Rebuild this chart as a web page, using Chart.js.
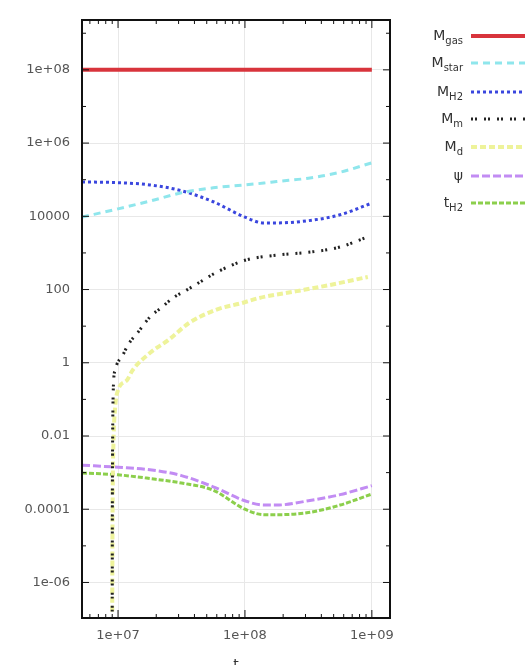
<!DOCTYPE html>
<html lang="en">
<head>
<meta charset="UTF-8">
<title>Mass evolution</title>
<script src="https://cdn.jsdelivr.net/npm/chart.js"></script>
<style>
    html, body { margin: 0; padding: 0; background: #fff; overflow: hidden; }
    canvas { display: block; }
</style>
</head>
<body>
<canvas id="massChart" width="530" height="674"></canvas>
<script>
// shared time grid for the smooth curves
var tGrid  = [5.2e6, 1e7, 1.78e7, 3.16e7, 5.62e7, 1e8, 1.41e8, 1.78e8, 3.16e8, 5.62e8, 1e9];
var mGas   = [1e8, 1e8, 1e8, 1e8, 1e8, 1e8, 1e8, 1e8, 1e8, 1e8, 1e8];
var mStar  = [9.5e3, 1.6e4, 2.6e4, 4.4e4, 6.0e4, 7.2e4, 8.1e4, 8.9e4, 1.1e5, 1.6e5, 2.9e5];
var mH2    = [8.7e4, 8.3e4, 7.2e4, 5.0e4, 2.5e4, 9.5e3, 6.6e3, 6.6e3, 7.6e3, 1.1e4, 2.3e4];
var psi    = [1.6e-3, 1.4e-3, 1.2e-3, 8.3e-4, 4.1e-4, 1.7e-4, 1.3e-4, 1.3e-4, 1.7e-4, 2.5e-4, 4.4e-4];
var tH2    = [9.8e-4, 8.7e-4, 6.9e-4, 5.2e-4, 3.3e-4, 1.0e-4, 7.1e-5, 7.1e-5, 8.1e-5, 1.3e-4, 2.6e-4];

// metals and dust switch on just before 1e7
var tMetal = [9.0e6, 9.02e6, 9.05e6, 9.1e6, 9.2e6, 9.5e6, 1.09e7, 1.2e7, 1.44e7, 1.79e7, 2.22e7,
              2.71e7, 3.49e7, 4.42e7, 5.8e7, 1.0e8, 1.9e8, 3.4e8, 5.6e8, 9.3e8];
var mMetal = [1.6e-7, 1e-4, 3.2e-3, 4e-2, 0.25, 0.63, 1.6, 3.1, 6.9, 18, 33,
              59, 98, 160, 280, 630, 890, 1070, 1450, 2750];
var tDust  = [9.0e6, 9.03e6, 9.08e6, 9.2e6, 9.5e6, 1.0e7, 1.18e7, 1.3e7, 1.8e7, 2.5e7, 3.6e7,
              5.9e7, 9.5e7, 1.3e8, 2.5e8, 4.5e8, 9.3e8];
var mDust  = [1.6e-7, 1e-5, 3.2e-4, 6.3e-3, 6.3e-2, 0.18, 0.34, 0.62, 1.9, 4.2, 12,
              28, 43, 59, 89, 130, 220];

var legendMain = ['M', 'M', 'M', 'M', 'M', '\u03C8', 't'];
var legendSub  = ['gas', 'star', 'H2', 'm', 'd', '', 'H2'];

var yLabels = {'-6': '1e-06', '-4': '0.0001', '-2': '0.01', '0': '1', '2': '100',
               '4': '10000', '6': '1e+06', '8': '1e+08'};
var xLabels = {'7': '1e+07', '8': '1e+08', '9': '1e+09'};

function pts(xs, ys) {
    return xs.map(function (x, i) { return {x: x, y: ys[i]}; });
}

function exp10(v) { return Math.round(Math.log10(v)); }

// frame box with inward tick marks, like the original plot
var frame = {
    id: 'frame',
    afterDraw: function (chart) {
        var c = chart.ctx, a = chart.chartArea;
        var xs = chart.scales.x, ys = chart.scales.y;
        c.save();
        c.strokeStyle = '#111';
        c.lineWidth = 1;
        c.beginPath();
        for (var e = -7; e <= 9; e++) {
            var py = ys.getPixelForValue(Math.pow(10, e));
            if (py < a.top || py > a.bottom) continue;
            var len = (e % 2 === 0) ? 7 : 4;
            c.moveTo(a.left, py); c.lineTo(a.left + len, py);
            c.moveTo(a.right, py); c.lineTo(a.right - len, py);
        }
        for (var d = 6; d <= 9; d++) {
            for (var m = 1; m < 10; m++) {
                var v = m * Math.pow(10, d);
                var px = xs.getPixelForValue(v);
                if (px < a.left || px > a.right) continue;
                var l = (m === 1) ? 8 : 4;
                c.moveTo(px, a.bottom); c.lineTo(px, a.bottom - l);
                c.moveTo(px, a.top); c.lineTo(px, a.top + l);
            }
        }
        c.stroke();
        c.lineWidth = 2;
        c.strokeRect(a.left, a.top, a.right - a.left, a.bottom - a.top);
        c.restore();
    }
};

// legend on the right with subscripts
var sideLegend = {
    id: 'sideLegend',
    afterDraw: function (chart) {
        var c = chart.ctx;
        var rows = [36, 63, 92, 119, 147, 176, 203];
        c.save();
        chart.data.datasets.forEach(function (ds, i) {
            var y = rows[i];
            c.strokeStyle = ds.borderColor;
            c.lineWidth = ds.borderWidth;
            c.setLineDash(ds.borderDash || []);
            c.beginPath();
            c.moveTo(471, y); c.lineTo(525, y);
            c.stroke();
            c.setLineDash([]);
            c.fillStyle = '#333';
            c.textBaseline = 'alphabetic';
            c.textAlign = 'left';
            c.font = '10px "DejaVu Sans"';
            var subW = legendSub[i] ? c.measureText(legendSub[i]).width : 0;
            c.font = '14px "DejaVu Sans"';
            var mainW = c.measureText(legendMain[i]).width;
            var x0 = 463 - subW - mainW;
            c.fillText(legendMain[i], x0, y + 4);
            if (legendSub[i]) {
                c.font = '10px "DejaVu Sans"';
                c.fillText(legendSub[i], x0 + mainW, y + 8);
            }
        });
        c.restore();
    }
};

var ctx = document.getElementById('massChart').getContext('2d');
var massChart = new Chart(ctx, {
    type: 'scatter',
    data: {
        datasets: [
            {label: 'M_gas',  data: pts(tGrid, mGas),   borderColor: '#d8343c', borderWidth: 4},
            {label: 'M_star', data: pts(tGrid, mStar),  borderColor: '#8fe6ec', borderWidth: 3, borderDash: [7, 5]},
            {label: 'M_H2',   data: pts(tGrid, mH2),    borderColor: '#3a46de', borderWidth: 3, borderDash: [3, 3]},
            {label: 'M_m',    data: pts(tMetal, mMetal), borderColor: '#222222', borderWidth: 3, borderDash: [2, 2, 2, 7]},
            {label: 'M_d',    data: pts(tDust, mDust),  borderColor: '#eef39a', borderWidth: 4, borderDash: [6, 3]},
            {label: 'psi',    data: pts(tGrid, psi),    borderColor: '#c28cf3', borderWidth: 3, borderDash: [8, 3]},
            {label: 't_H2',   data: pts(tGrid, tH2),    borderColor: '#8ccf4c', borderWidth: 3, borderDash: [5, 2]}
        ]
    },
    options: {
        responsive: false,
        animation: false,
        showLine: true,
        elements: {point: {radius: 0}, line: {cubicInterpolationMode: 'monotone'}},
        layout: {padding: {top: 20, right: 140, left: 0, bottom: 0}},
        plugins: {legend: {display: false}, tooltip: {enabled: false}},
        scales: {
            x: {
                type: 'logarithmic',
                min: 5.2e6,
                max: 1.39e9,
                afterFit: function (s) { s.height = 56; },
                afterBuildTicks: function (s) {
                    s.ticks = [{value: 1e7}, {value: 1e8}, {value: 1e9}];
                },
                grid: {color: '#e8e8e8', drawTicks: false},
                border: {display: false},
                ticks: {
                    autoSkip: false,
                    maxRotation: 0,
                    padding: 10,
                    color: '#555',
                    font: {family: 'DejaVu Sans', size: 13},
                    callback: function (v) { return xLabels[exp10(v)] || ''; }
                },
                title: {display: true, text: 't', color: '#333', padding: 0,
                        font: {family: 'DejaVu Sans', size: 14}}
            },
            y: {
                type: 'logarithmic',
                min: 1.07e-7,
                max: 2.3e9,
                afterFit: function (s) { s.width = 82; },
                afterBuildTicks: function (s) {
                    var t = [];
                    for (var e = -6; e <= 8; e += 2) t.push({value: Math.pow(10, e)});
                    s.ticks = t;
                },
                grid: {color: '#e8e8e8', drawTicks: false},
                border: {display: false},
                ticks: {
                    autoSkip: false,
                    padding: 12,
                    color: '#555',
                    font: {family: 'DejaVu Sans', size: 13},
                    callback: function (v) { return yLabels[exp10(v)] || ''; }
                }
            }
        }
    },
    plugins: [frame, sideLegend]
});
</script>
</body>
</html>
